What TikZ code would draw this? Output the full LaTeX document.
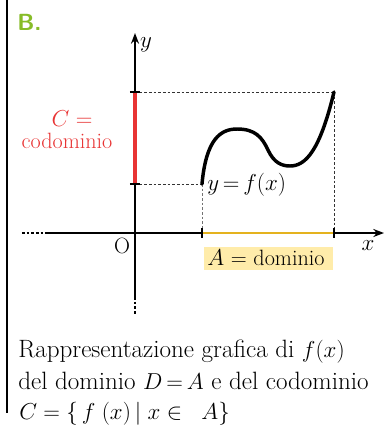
\documentclass[tikz,border=0pt]{standalone}
\usetikzlibrary{arrows.meta}
\definecolor{bgreen}{RGB}{135,188,40}
\definecolor{cred}{RGB}{232,52,52}
\definecolor{dyel}{RGB}{228,178,30}
\definecolor{dbox}{RGB}{255,236,170}
\begin{document}
\begin{tikzpicture}[x=0.75pt,y=-0.75pt,
  axis/.style={line width=1.5pt,-{Stealth[length=8pt,width=6pt]}},
  guide/.style={line width=0.6pt,dash pattern=on 2pt off 1.5pt,black!80},
  lbl/.style={inner sep=0pt,font=\fontsize{16.6}{19}\selectfont},
  body/.style={inner sep=0pt,anchor=base west,font=\fontsize{18.8}{22}\selectfont}]
\useasboundingbox (0,0) rectangle (385,430);
% left border
\draw[line width=1pt] (7,0) -- (7,413);
\node[inner sep=0pt,anchor=base west,font=\sffamily\bfseries\fontsize{17.5}{20}\selectfont,text=bgreen] (B) at (17,30) {B.};
% coordinates
\coordinate (O) at (135,233);
\coordinate (ytop) at (135,33);
\coordinate (ybot) at (135,297);
\coordinate (yend) at (135,315);
\coordinate (xl) at (22,233);
\coordinate (xs) at (45,233);
\coordinate (xr) at (384,233);
\coordinate (c1) at (135,92);
\coordinate (c2) at (135,184);
\coordinate (a1) at (202,233);
\coordinate (a2) at (334,233);
\coordinate (p1) at (202,184);
\coordinate (p2) at (334,92);
% axes
\draw[line width=1.5pt,dash pattern=on 2pt off 1.5pt] (xl) -- (xs);
\draw[axis] (xs) -- (xr);
\draw[line width=1.5pt,dash pattern=on 2pt off 1.5pt] (ybot) -- (yend);
\draw[axis] (ybot) -- (ytop);
% guides
\draw[guide] (c1) -- (p2);
\draw[guide] (c2) -- (p1);
\draw[guide,black!55] (p1) -- (a1);
\draw[guide] (p2) -- (a2);
% codomain
\draw[line width=2.4pt,cred] (c1) -- (c2);
\draw[line width=1pt] (130,92) -- (140,92) (130,184) -- (140,184);
% domain
\draw[line width=2.2pt,dyel] (a1) -- (a2);
\draw[line width=1pt] (202,228) -- (202,238) (334,228) -- (334,238);
% curve
\draw[line width=2.6pt,line cap=round] (p1) .. controls (206,140) and (220,129) .. (237,129)
  .. controls (255,129) and (262,137) .. (268,150)
  .. controls (274,163) and (282,166) .. (290,166)
  .. controls (306,166) and (320,150) .. (p2);
% labels
\node[lbl,anchor=base] (ly) at (146,47) {$y$};
\node[lbl,anchor=base] (lx) at (368,250) {$x$};
\node[lbl,anchor=base] (lO) at (122,253) {O};
\node[lbl,anchor=base,text=cred] (lC) at (72,126) {$C =$};
\node[lbl,anchor=base,text=cred] (lcod) at (67,148) {codominio};
\node[lbl,anchor=base west] (lf) at (207,190) {$y\,{=}\,f(x)$};
\fill[dbox] (204,247) rectangle (333,270);
\node[lbl,anchor=base west] (lA) at (207,265) {$A$ = dominio};
% caption
\node[body] (t1) at (18,357) {Rappresentazione grafica di $f(x)$};
\node[body] (t2) at (18,389) {del dominio $D\,{=}\,A$ e del codominio};
\node[body] (t3) at (19,419) {$C = \Bigl\{\, f\;(x)\,\big|\; x \in\;\; A\Bigr\}$};
\end{tikzpicture}
\end{document}
